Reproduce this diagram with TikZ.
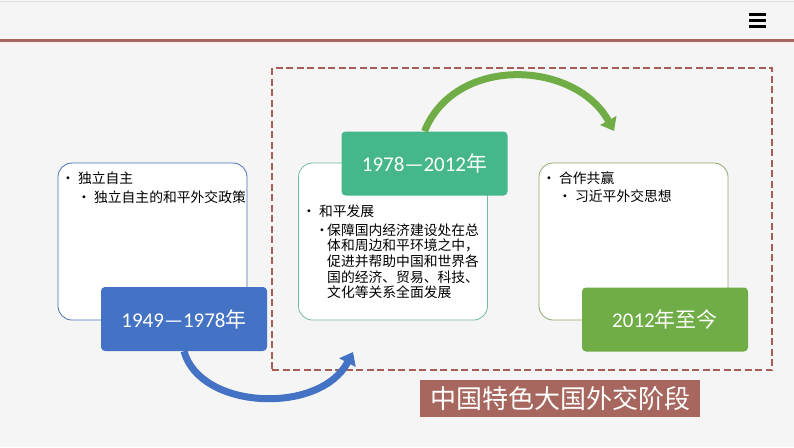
\documentclass[tikz,border=0pt]{standalone}
\usepackage{fontspec}
\setmainfont{Noto Sans CJK SC}
\newfontfamily\carl{Carlito}
\usetikzlibrary{arrows.meta}
\definecolor{bg}{HTML}{F5F5F5}
\definecolor{brn}{HTML}{A7675E}
\definecolor{dash}{HTML}{A65D55}
\definecolor{cblue}{HTML}{4472C4}
\definecolor{cteal}{HTML}{45B78A}
\definecolor{cgreen}{HTML}{70AD47}
\definecolor{bdblue}{HTML}{4A6FB5}
\definecolor{bdteal}{HTML}{72BBA2}
\definecolor{bdgreen}{HTML}{8FA86A}
\tikzset{
  card/.style={draw, line width=0.8pt, fill=white, rounded corners=14pt, minimum width=189pt, minimum height=157pt, inner sep=0pt},
  datebox/.style={rounded corners=4pt, minimum width=166pt, minimum height=64pt, inner sep=0pt, text=white, font=\carl\fontsize{21}{24}\selectfont},
  bul/.style={anchor=base west, inner sep=0pt, font=\fontsize{13.8}{15.7}\selectfont, text=black},
  bigarrow/.style={line width=7pt, -{Triangle[length=12pt,width=18pt]}}
}
\begin{document}
\begin{tikzpicture}[x=1pt,y=-1pt]
\useasboundingbox (0,0) rectangle (794,447);
\fill[bg] (0,0) rectangle (794,447);
% header
\draw[black!12, line width=0.8pt] (0,1.5) -- (794,1.5);
\draw[black!6, line width=0.6pt] (0,34) -- (794,34);
\draw[brn, line width=3.5pt] (0,40.5) -- (794,40.5);
\draw[red!8, line width=1pt] (0,43.5) -- (794,43.5);
\foreach \yy in {14,20,26} \fill[black] (749,\yy-1.5) rectangle (766,\yy+1.5);
% dashed frame
\node[draw=dash, dash pattern=on 7pt off 3.5pt, line width=2pt, minimum width=500pt, minimum height=302pt, inner sep=0pt] (frame) at (522,219) {};
% cards
\node[card, draw=bdblue] (c1) at (152.5,241.5) {};
\node[card, draw=bdteal] (c2) at (393,241.5) {};
\node[card, draw=bdgreen] (c3) at (633.5,241.5) {};
% date boxes
\node[datebox, fill=cblue] (d1) at (184,319) {1949—1978\rmfamily 年};
\node[datebox, fill=cteal] (d2) at (424.5,163.5) {1978—2012\rmfamily 年};
\node[datebox, fill=cgreen] (d3) at (665,319.5) {2012\rmfamily 年至今};
% texts
\node[bul] (t1a) at (61,183) {\textbullet\ 独立自主};
\node[bul] (t1b) at (77,202) {\textbullet\ 独立自主的和平外交政策};
\node[bul] (t2a) at (302,216) {\textbullet\ 和平发展};
\node[bul] (t2b) at (315,235) {\textbullet};
\node[bul] (t2c) at (327,235) {保障国内经济建设处在总};
\node[bul] (t2d) at (327,250.7) {体和周边和平环境之中，};
\node[bul] (t2e) at (327,266.4) {促进并帮助中国和世界各};
\node[bul] (t2f) at (327,282.1) {国的经济、贸易、科技、};
\node[bul] (t2g) at (327,297.8) {文化等关系全面发展};
\node[bul] (t3a) at (542,183) {\textbullet\ 合作共赢};
\node[bul] (t3b) at (558,201) {\textbullet\ 习近平外交思想};
% arrows
\coordinate (g2) at (614,131);
\draw[cgreen, bigarrow] (d2.north) .. controls (455,55) and (575,60) .. (g2);
\coordinate (b2) at (353,352);
\draw[cblue, bigarrow] (d1.south) .. controls (200,410) and (320,415) .. (b2);
% label
\node[fill=brn, text=white, minimum width=280pt, minimum height=37pt, inner sep=0pt, font=\fontsize{26}{28}\selectfont] (lab) at (560,398.5) {中国特色大国外交阶段};
\end{tikzpicture}
\end{document}
